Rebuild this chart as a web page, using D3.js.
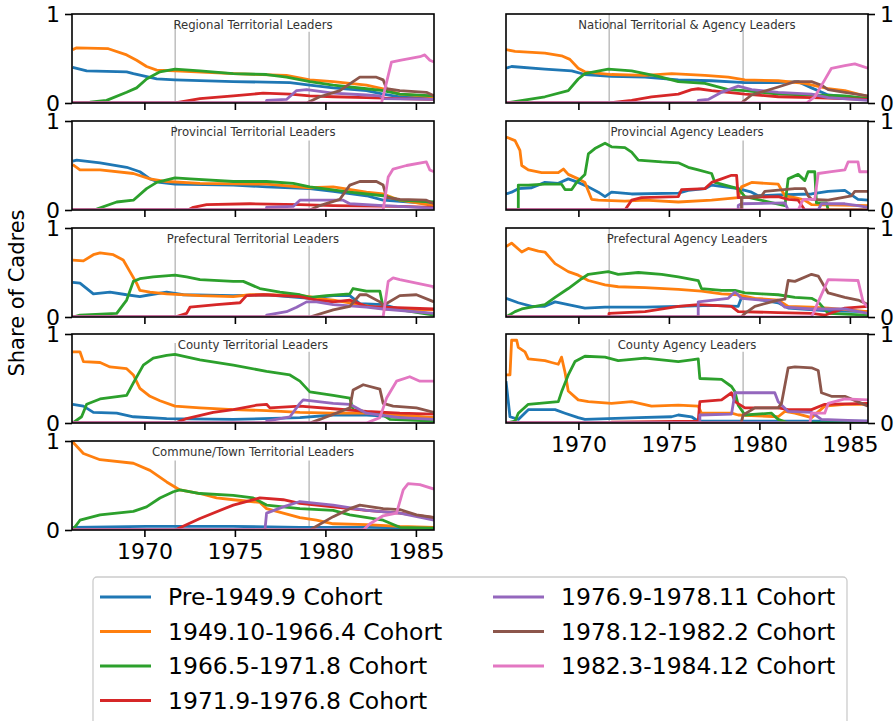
<!DOCTYPE html>
<html>
<head>
<meta charset="utf-8">
<script src="https://cdn.jsdelivr.net/npm/d3@7"></script>
<style>
  body { margin: 0; background: #fff; }
  text { font-family: "DejaVu Sans", sans-serif; }
</style>
</head>
<body>
<svg id="chart" width="895" height="721"></svg>
<script>
// cohorts in plotting order
const cohorts = [
  'Pre-1949.9 Cohort', '1949.10-1966.4 Cohort', '1966.5-1971.8 Cohort', '1971.9-1976.8 Cohort',
  '1976.9-1978.11 Cohort', '1978.12-1982.2 Cohort', '1982.3-1984.12 Cohort'
];
const colors = ['#1f77b4', '#ff7f0e', '#2ca02c', '#d62728', '#9467bd', '#8c564b', '#e377c2'];
const xTicks = [1970, 1975, 1980, 1985];
const yTicks = [0, 1];
const eventYears = [1971.7, 1979.1];

// each panel: 7 series of [year, share]
const regionalTerritorial = [
  [[1966.04,.40],[1966.81,.36],[1969.02,.35],[1969.39,.33],[1970.68,.27],[1971.69,.26],[1974.91,.24],[1978.04,.23],[1979.14,.2],[1980.43,.17],[1982.27,.14],[1983.19,.1],[1984.11,.07],[1986,.05]],
  [[1966.04,.60],[1966.26,.62],[1968.01,.61],[1969.02,.54],[1969.57,.48],[1970.12,.41],[1970.68,.37],[1971.69,.36],[1974.91,.33],[1977.85,.31],[1979.14,.26],[1980.43,.24],[1982.27,.20],[1983.19,.16],[1984.11,.10],[1986,.07]],
  [[1966.04,0],[1966.99,.01],[1967.91,.03],[1969.02,.12],[1969.57,.17],[1970.12,.27],[1970.86,.35],[1971.69,.38],[1973.07,.36],[1974.91,.33],[1976.75,.32],[1977.85,.29],[1979.14,.24],[1980.43,.2],[1982.27,.16],[1983.19,.14],[1984.11,.1],[1986,.08]],
  [[1966,0],[1971.69,0],[1973.07,.05],[1974.91,.08],[1976.56,.11],[1978.04,.1],[1979.14,.08],[1980.43,.07],[1982.27,.06],[1984.11,.05],[1986,.04]],
  [[1966,0],[1976.75,0],[1976.75,.03],[1977.85,.04],[1978.41,.14],[1978.96,.15],[1980.43,.11],[1982.27,.09],[1983.01,.08],[1983.19,.05],[1986,.04]],
  [[1966,0],[1978.96,0],[1979.69,.07],[1980.8,.14],[1981.53,.24],[1981.9,.29],[1982.82,.29],[1983.19,.26],[1983.38,.16],[1984.11,.14],[1985.58,.12],[1986,.08]],
  [[1966,0],[1983.1,0],[1983.65,.46],[1984.11,.48],[1985.22,.52],[1985.49,.54],[1985.77,.48],[1986,.46]]
];
const provincialTerritorial = [
  [[1966.04,.55],[1966.26,.56],[1967.55,.53],[1969.02,.48],[1969.75,.43],[1970.31,.35],[1970.86,.31],[1971.69,.29],[1974.91,.28],[1976.75,.26],[1979.14,.24],[1980.43,.21],[1982.27,.16],[1983.19,.11],[1986,.07]],
  [[1966.04,.51],[1966.44,.45],[1967.55,.45],[1969.39,.41],[1970.31,.35],[1971.23,.32],[1973.07,.3],[1976.75,.29],[1979.14,.25],[1980.43,.26],[1982.27,.2],[1983.19,.18],[1984.11,.11],[1986,.05]],
  [[1966.04,0],[1967.36,.01],[1968.47,.09],[1969.39,.11],[1970.12,.24],[1970.68,.31],[1971.69,.36],[1972.52,.35],[1974.91,.32],[1976.75,.32],[1978.22,.3],[1979.14,.26],[1981.35,.2],[1983.19,.16],[1984.11,.11],[1986,.09]],
  [[1966,0],[1972.4,0],[1972.7,.03],[1973.44,.06],[1975.83,.07],[1978.59,.06],[1980.43,.05],[1984.11,.04],[1986,.03]],
  [[1966,0],[1976.75,0],[1976.75,.03],[1978.22,.04],[1978.59,.11],[1980.98,.11],[1981.35,.07],[1983.19,.05],[1986,.02]],
  [[1966,0],[1979.14,0],[1979.69,.05],[1980.8,.12],[1981.35,.28],[1981.9,.32],[1982.82,.32],[1983.19,.28],[1983.38,.14],[1984.11,.12],[1985.58,.11],[1986,.07]],
  [[1966,0],[1983.19,0],[1983.47,.37],[1983.74,.46],[1984.48,.5],[1985.58,.54],[1985.77,.45],[1986,.43]]
];
const prefecturalTerritorial = [
  [[1966.04,.39],[1966.44,.38],[1967.18,.26],[1968.1,.28],[1969.02,.25],[1969.75,.23],[1970.31,.25],[1971.23,.28],[1972.15,.25],[1974.91,.24],[1976.75,.25],[1979.14,.21],[1980.43,.24],[1981.35,.24],[1981.9,.15],[1983.19,.14],[1984.11,.09],[1986,.03]],
  [[1966.04,.64],[1966.63,.63],[1967.18,.7],[1967.55,.72],[1968.28,.7],[1968.83,.64],[1969.2,.51],[1969.57,.38],[1969.75,.3],[1970.31,.28],[1971.23,.26],[1973.07,.24],[1974.91,.23],[1975.83,.25],[1976.75,.25],[1978.59,.24],[1979.14,.23],[1979.51,.21],[1980.43,.19],[1981.35,.16],[1983.19,.09],[1986,.08]],
  [[1966.04,0],[1966.44,.02],[1968.47,.04],[1969.02,.19],[1969.39,.4],[1969.75,.43],[1970.49,.45],[1971.69,.47],[1972.33,.45],[1973.07,.42],[1974.91,.4],[1975.46,.4],[1976.38,.32],[1977.49,.28],[1978.59,.25],[1979.14,.22],[1980.06,.24],[1981.35,.26],[1981.53,.32],[1982.27,.29],[1983.01,.29],[1983.19,.11],[1986,.02]],
  [[1966,0],[1971.69,0],[1972.33,.04],[1972.52,.11],[1973.99,.14],[1975.28,.16],[1975.64,.24],[1976.56,.25],[1978.59,.23],[1979.51,.19],[1980.43,.17],[1981.35,.19],[1982.27,.12],[1983.19,.11],[1986,.09]],
  [[1966,0],[1976.75,0],[1976.75,.02],[1977.85,.06],[1978.41,.11],[1978.96,.17],[1979.51,.17],[1980.43,.14],[1982.27,.11],[1983.19,.09],[1986,.04]],
  [[1966,0],[1979.14,0],[1980.43,.08],[1981.35,.12],[1981.9,.25],[1982.27,.25],[1983.01,.17],[1983.19,.13],[1984.11,.24],[1985.03,.25],[1986,.17]],
  [[1966,0],[1983.19,0],[1983.47,.4],[1983.74,.44],[1984.11,.42],[1985.96,.34],[1986,.32]]
];
const countyTerritorial = [
  [[1966.04,.21],[1966.63,.19],[1967.18,.12],[1968.47,.11],[1969.39,.07],[1971.23,.05],[1974.91,.04],[1978.59,.06],[1980.43,.09],[1982.27,.09],[1984.11,.07],[1986,.06]],
  [[1966.04,.8],[1966.44,.8],[1966.63,.69],[1967.55,.68],[1968.1,.63],[1969.02,.61],[1969.39,.54],[1969.75,.39],[1970.31,.3],[1970.86,.25],[1971.69,.19],[1973.07,.17],[1974.91,.15],[1976.75,.14],[1978.59,.12],[1980.43,.11],[1982.27,.11],[1984.11,.09],[1986,.06]],
  [[1966.04,0],[1966.53,.07],[1966.81,.21],[1967.55,.27],[1969.02,.31],[1969.39,.45],[1969.94,.65],[1970.49,.73],[1971.23,.76],[1971.69,.77],[1973.07,.71],[1974.91,.65],[1976.75,.58],[1978.04,.54],[1978.59,.47],[1979.14,.35],[1980.43,.31],[1981.35,.28],[1981.53,.15],[1983.19,.09],[1983.56,.04],[1986,.02]],
  [[1966,0],[1971.69,0],[1972.33,.05],[1973.8,.12],[1974.91,.15],[1976.2,.2],[1976.75,.21],[1976.93,.17],[1978.59,.19],[1980.43,.16],[1982.27,.13],[1984.11,.11],[1986,.1]],
  [[1966,0],[1976.75,0],[1976.75,.02],[1978.04,.07],[1978.59,.22],[1978.77,.26],[1980.43,.22],[1981.35,.21],[1982.27,.11],[1984.11,.06],[1986,.04]],
  [[1966,0],[1979.14,0],[1979.69,.04],[1981.35,.17],[1981.53,.37],[1982.09,.43],[1983.01,.38],[1983.19,.22],[1983.74,.19],[1985.03,.17],[1986,.12]],
  [[1966,0],[1982.27,0],[1983.01,.06],[1983.38,.28],[1983.93,.47],[1984.66,.52],[1985.22,.47],[1986,.47]]
];
const communeTerritorial = [
  [[1966.04,.03],[1970.12,.04],[1974.91,.04],[1978.59,.03],[1982.27,.03],[1986,.02]],
  [[1966.04,.99],[1966.63,.86],[1967.55,.79],[1969.39,.75],[1970.31,.67],[1971.23,.54],[1971.96,.45],[1973.07,.41],[1973.99,.36],[1974.91,.34],[1976.38,.31],[1976.75,.24],[1977.67,.19],[1978.59,.14],[1979.51,.11],[1980.43,.07],[1982.27,.06],[1984.11,.04],[1986,.03]],
  [[1966.04,0],[1966.44,.11],[1967.55,.17],[1969.39,.21],[1970.12,.26],[1970.86,.36],[1971.6,.43],[1971.96,.45],[1973.07,.41],[1974.91,.39],[1976.01,.36],[1976.75,.28],[1978.59,.24],[1980.43,.22],[1981.35,.17],[1983.19,.11],[1984.11,.03],[1986,.02]],
  [[1966,0],[1971.69,0],[1973.07,.13],[1974.91,.28],[1976.38,.36],[1977.67,.34],[1978.59,.3],[1980.43,.26],[1982.27,.22],[1984.11,.19],[1986,.14]],
  [[1966,0],[1976.66,0],[1976.75,.19],[1977.67,.26],[1978.59,.32],[1980.43,.28],[1982.27,.22],[1984.11,.19],[1986,.11]],
  [[1966,0],[1979.14,0],[1980.43,.15],[1981.35,.24],[1981.9,.28],[1983.19,.24],[1984.11,.23],[1985.03,.17],[1986,.14]],
  [[1966,0],[1982.09,0],[1982.46,.07],[1983.19,.16],[1983.93,.19],[1984.3,.45],[1984.57,.52],[1985.22,.51],[1986,.46]]
];
const nationalLeaders = [
  [[1966,.39],[1966.31,.41],[1968.15,.38],[1969.63,.36],[1970.36,.32],[1971.83,.3],[1973.68,.29],[1975.52,.26],[1977.36,.25],[1979.2,.23],[1981.04,.23],[1982.14,.24],[1982.88,.17],[1983.8,.09],[1986,.05]],
  [[1966,.6],[1966.5,.58],[1968.15,.56],[1969.07,.53],[1969.53,.49],[1969.99,.39],[1970.36,.35],[1971.83,.32],[1973.68,.31],[1975.15,.33],[1976.99,.31],[1978.28,.29],[1979.2,.26],[1981.04,.25],[1982.51,.22],[1983.8,.16],[1984.72,.14],[1986,.07]],
  [[1966,0],[1968.15,.07],[1969.44,.14],[1969.99,.27],[1970.36,.33],[1971.65,.38],[1972.94,.36],[1974.41,.3],[1975.52,.24],[1976.99,.22],[1978.28,.15],[1979.2,.14],[1981.04,.1],[1982.88,.09],[1984.72,.08],[1986,.05]],
  [[1966,0],[1971.69,0],[1972.94,.03],[1974.04,.07],[1975.52,.1],[1976.25,.15],[1976.62,.16],[1977.36,.14],[1978.28,.12],[1979.2,.1],[1981.04,.07],[1982.88,.06],[1986,.04]],
  [[1966,0],[1976.62,0],[1976.62,.03],[1977.17,.04],[1977.91,.12],[1978.83,.19],[1979.57,.15],[1981.04,.12],[1982.88,.1],[1983.8,.06],[1986,.03]],
  [[1966,0],[1978.99,0],[1979.57,.09],[1981.04,.18],[1981.96,.24],[1982.88,.24],[1983.43,.2],[1983.8,.15],[1984.72,.12],[1986,.08]],
  [[1966,0],[1982.6,0],[1983.06,.07],[1983.61,.26],[1983.98,.39],[1984.72,.42],[1985.27,.44],[1986,.39]]
];
const provincialAgency = [
  [[1966,.18],[1966.31,.2],[1966.68,.24],[1967.42,.25],[1968.15,.31],[1968.89,.3],[1969.44,.35],[1969.99,.31],[1970.55,.26],[1971.1,.2],[1971.47,.15],[1971.83,.2],[1972.94,.18],[1975.52,.19],[1976.07,.22],[1976.99,.24],[1977.36,.28],[1978.09,.26],[1978.83,.24],[1979.57,.2],[1979.93,.16],[1981.04,.17],[1982.88,.18],[1983.8,.21],[1984.72,.22],[1985.45,.12],[1986,.11]],
  [[1966,.82],[1966.5,.78],[1966.77,.67],[1966.87,.5],[1967.23,.45],[1967.97,.42],[1968.89,.42],[1969.17,.46],[1969.44,.4],[1969.99,.35],[1970.36,.31],[1970.73,.12],[1971.1,.11],[1972.57,.1],[1973.68,.11],[1975.52,.09],[1977.36,.11],[1978.83,.14],[1979.01,.26],[1979.57,.31],[1981.04,.29],[1981.41,.16],[1981.96,.14],[1982.51,.11],[1982.88,.06],[1986,.05]],
  [[1966,0],[1966.68,0],[1966.68,.28],[1967.23,.28],[1968.15,.29],[1969.07,.29],[1969.26,.23],[1969.63,.23],[1969.9,.31],[1970.36,.4],[1970.55,.63],[1970.91,.69],[1971.47,.75],[1971.83,.71],[1972.57,.7],[1972.94,.65],[1973.31,.56],[1974.6,.54],[1975.52,.53],[1976.07,.48],[1976.62,.45],[1977.36,.41],[1977.54,.31],[1978.46,.26],[1978.83,.24],[1979.2,.15],[1980.3,.1],[1981.41,.05],[1981.59,.35],[1982.14,.4],[1982.51,.33],[1982.69,.43],[1983.06,.43],[1983.15,.08],[1983.71,.08],[1983.8,0],[1986,0]],
  [[1966,0],[1972.57,0],[1972.94,.11],[1973.49,.14],[1975.52,.15],[1975.7,.23],[1976.99,.24],[1977.36,.31],[1977.91,.35],[1978.46,.39],[1978.74,.39],[1978.83,.14],[1981.04,.15],[1981.59,.12],[1982.14,.11],[1982.51,0],[1986,0]],
  [[1966,0],[1978.83,0],[1978.83,.05],[1979.01,.07],[1981.41,.08],[1981.59,0],[1983.25,0],[1983.43,.07],[1984.72,.07],[1985.45,.05],[1986,.03]],
  [[1966,0],[1979.01,0],[1979.01,.14],[1980.12,.16],[1980.3,.21],[1981.96,.24],[1982.51,.24],[1982.69,.16],[1982.88,.12],[1983.8,.11],[1985.09,.16],[1985.27,.21],[1986,.21]],
  [[1966,0],[1982.14,0],[1982.42,.12],[1983.06,.12],[1983.25,.41],[1983.98,.43],[1984.72,.45],[1984.9,.54],[1985.45,.54],[1985.54,.43],[1986,.43]]
];
const prefecturalAgency = [
  [[1966,.21],[1966.68,.16],[1967.42,.12],[1968.15,.12],[1968.71,.17],[1969.63,.13],[1970.36,.1],[1971.47,.11],[1973.68,.11],[1975.52,.12],[1977.36,.13],[1978.83,.12],[1979.01,.22],[1979.57,.21],[1981.04,.16],[1981.59,.1],[1983.8,.07],[1986,.06]],
  [[1966,.79],[1966.31,.83],[1966.87,.73],[1967.23,.77],[1967.79,.74],[1968.15,.73],[1968.71,.6],[1969.44,.51],[1969.99,.47],[1970.55,.41],[1971.47,.36],[1972.2,.34],[1973.68,.33],[1975.52,.31],[1976.8,.29],[1977.91,.26],[1978.83,.25],[1979.75,.21],[1981.04,.19],[1981.59,.12],[1982.88,.11],[1983.8,.1],[1986,.06]],
  [[1966,0],[1966.5,.06],[1966.87,.09],[1968.15,.14],[1968.71,.22],[1969.44,.32],[1970.18,.43],[1970.55,.48],[1971.65,.51],[1972.2,.48],[1973.31,.5],[1974.6,.48],[1975.52,.45],[1976.62,.41],[1976.8,.32],[1977.91,.3],[1978.65,.3],[1979.2,.27],[1980.12,.26],[1981.04,.25],[1981.96,.22],[1982.88,.21],[1983.25,.17],[1983.8,.04],[1986,.02]],
  [[1966,0],[1971.69,0],[1971.69,.04],[1973.68,.06],[1975.52,.12],[1976.62,.14],[1978.46,.12],[1978.83,.06],[1981.04,.05],[1982.88,.04],[1983.61,.02],[1984.72,.1],[1986,.12]],
  [[1966,0],[1976.62,0],[1976.62,.17],[1978.28,.21],[1978.65,.28],[1979.01,.21],[1980.12,.19],[1981.04,.18],[1981.41,.11],[1982.88,.09],[1984.72,.09],[1986,.04]],
  [[1966,0],[1978.99,0],[1979.2,.04],[1979.75,.12],[1981.04,.19],[1981.41,.2],[1981.59,.41],[1981.96,.4],[1982.88,.48],[1983.25,.46],[1983.8,.27],[1984.72,.22],[1985.45,.19],[1986,.14]],
  [[1966,0],[1982.88,0],[1983.25,.17],[1983.8,.42],[1985.45,.41],[1985.73,.17],[1986,.11]]
];
const countyAgency = [
  [[1966,.47],[1966.22,.07],[1966.68,.04],[1967.23,.15],[1968.71,.15],[1969.26,.11],[1969.99,.06],[1970.36,.04],[1973.31,.06],[1975.15,.07],[1975.52,.09],[1976.25,.07],[1976.62,.02],[1986,.02]],
  [[1966,.54],[1966.22,.54],[1966.31,.93],[1966.59,.93],[1966.68,.85],[1967.05,.8],[1967.23,.72],[1968.15,.7],[1968.52,.68],[1968.89,.66],[1969.07,.74],[1969.26,.57],[1969.44,.36],[1969.99,.26],[1970.55,.24],[1971.83,.22],[1972.94,.24],[1974.04,.19],[1975.52,.2],[1976.62,.19],[1976.8,.11],[1978.46,.11],[1978.83,.09],[1981.04,.07],[1981.41,.13],[1981.96,.11],[1982.88,.06],[1983.61,.19],[1984.72,.21],[1986,.21]],
  [[1966,0],[1966.5,.02],[1966.68,.11],[1967.23,.21],[1968.89,.24],[1969.07,.35],[1969.44,.54],[1969.81,.69],[1970.36,.75],[1971.47,.74],[1972.2,.7],[1973.68,.73],[1975.52,.69],[1976.25,.71],[1976.62,.72],[1976.71,.5],[1977.91,.49],[1978.46,.41],[1978.65,.35],[1978.83,.2],[1979.2,.09],[1980.67,.11],[1981.04,.04],[1981.59,0],[1986,0]],
  [[1966,0],[1971.83,0],[1971.83,.01],[1976.62,.02],[1976.71,.24],[1977.91,.26],[1978.46,.34],[1978.65,.24],[1979.2,.17],[1981.04,.17],[1981.59,.15],[1982.88,.15],[1983.61,.21],[1986,.22]],
  [[1966,0],[1976.71,0],[1976.71,.09],[1978.46,.1],[1978.65,.34],[1980.85,.34],[1981.04,.24],[1981.59,.13],[1982.88,.12],[1983.43,.04],[1986,.02]],
  [[1966,0],[1978.99,0],[1979.1,.09],[1979.75,.17],[1981.04,.17],[1981.22,.22],[1981.59,.62],[1981.96,.63],[1982.88,.62],[1983.25,.59],[1983.43,.34],[1983.98,.3],[1984.72,.3],[1986,.19]],
  [[1966,0],[1982.79,0],[1982.88,.11],[1983.61,.11],[1983.8,.22],[1984.72,.27],[1986,.26]]
];

const panels = [
  {title: 'Regional Territorial Leaders', series: regionalTerritorial, col: 0, row: 0, guide: [0.92, 0.8]},
  {title: 'Provincial Territorial Leaders', series: provincialTerritorial, col: 0, row: 1, guide: [0.95, 0.78]},
  {title: 'Prefectural Territorial Leaders', series: prefecturalTerritorial, col: 0, row: 2, guide: [0.87, 0.8]},
  {title: 'County Territorial Leaders', series: countyTerritorial, col: 0, row: 3, guide: [0.9, 0.8]},
  {title: 'Commune/Town Territorial Leaders', series: communeTerritorial, col: 0, row: 4, guide: [0.78, 0.78]},
  {title: 'National Territorial & Agency Leaders', series: nationalLeaders, col: 1, row: 0, guide: [1, 0.82]},
  {title: 'Provincial Agency Leaders', series: provincialAgency, col: 1, row: 1, guide: [1, 0.78]},
  {title: 'Prefectural Agency Leaders', series: prefecturalAgency, col: 1, row: 2, guide: [1, 0.8]},
  {title: 'County Agency Leaders', series: countyAgency, col: 1, row: 3, guide: [0.94, 0.8]}
];

const config = {
  colX: [72, 506],
  panelW: 362,
  rowY: [14, 121, 228, 334, 441],
  panelH: 89,
  lastRow: [4, 3],
  tickLen: 7,
  lineWidth: 2.8
};

const svg = d3.select('#chart');

const x = d3.scaleLinear().domain([1966, 1986]).range([0, config.panelW]);
const y = d3.scaleLinear().domain([0, 1]).range([config.panelH, 0]);

const line = d3.line()
  .x(d => x(d[0]))
  .y(d => y(d[1]));

panels.forEach((p, i) => {
  const g = svg.append('g')
    .attr('transform', `translate(${config.colX[p.col]}, ${config.rowY[p.row]})`);

  g.append('clipPath').attr('id', `clip${i}`)
    .append('rect').attr('width', config.panelW).attr('height', config.panelH);

  // event guide lines
  g.selectAll('.guide')
    .data(eventYears)
    .enter()
    .append('line')
    .attr('x1', d => x(d)).attr('x2', d => x(d))
    .attr('y1', config.panelH)
    .attr('y2', (d, k) => config.panelH * (1 - p.guide[k]))
    .attr('stroke', '#b4b4b4')
    .attr('stroke-width', 1.3);

  g.append('text')
    .attr('x', config.panelW / 2)
    .attr('y', 15)
    .attr('text-anchor', 'middle')
    .style('font-size', '11.7px')
    .style('fill', '#333')
    .text(p.title);

  g.append('g')
    .attr('clip-path', `url(#clip${i})`)
    .selectAll('path')
    .data(p.series)
    .enter()
    .append('path')
    .attr('d', line)
    .attr('fill', 'none')
    .attr('stroke', (d, k) => colors[k])
    .attr('stroke-width', config.lineWidth)
    .attr('stroke-linejoin', 'round');

  const showX = p.row === config.lastRow[p.col];
  const xAxis = d3.axisBottom(x)
    .tickValues(xTicks)
    .tickSize(config.tickLen)
    .tickPadding(6)
    .tickFormat(d => showX ? d : '');
  const xg = g.append('g')
    .attr('transform', `translate(0, ${config.panelH})`)
    .call(xAxis);

  const yAxis = (p.col === 0 ? d3.axisLeft(y) : d3.axisRight(y))
    .tickValues(yTicks)
    .tickSize(config.tickLen)
    .tickPadding(5)
    .tickFormat(d3.format('d'));
  const yg = g.append('g')
    .attr('transform', `translate(${p.col === 0 ? 0 : config.panelW}, 0)`)
    .call(yAxis);

  [xg, yg].forEach(a => {
    a.select('.domain').remove();
    a.selectAll('line').attr('stroke', '#000').attr('stroke-width', 1.6);
    a.selectAll('text').style('font-size', '22px').style('fill', '#000').style('font-family', '"DejaVu Sans"');
  });

  g.append('rect')
    .attr('width', config.panelW)
    .attr('height', config.panelH)
    .attr('fill', 'none')
    .attr('stroke', '#000')
    .attr('stroke-width', 1.6);
});

svg.append('text')
  .attr('transform', 'translate(24, 293) rotate(-90)')
  .attr('text-anchor', 'middle')
  .style('font-size', '21px')
  .text('Share of Cadres');

// legend
const legend = svg.append('g');
legend.append('rect')
  .attr('x', 93).attr('y', 577)
  .attr('width', 754).attr('height', 160)
  .attr('rx', 4)
  .attr('fill', '#fff')
  .attr('stroke', '#cccccc')
  .attr('stroke-width', 1.3);

const items = legend.selectAll('.item')
  .data(cohorts)
  .enter()
  .append('g')
  .attr('transform', (d, i) => {
    const c = i < 4 ? 0 : 1;
    const r = i < 4 ? i : i - 4;
    return `translate(${c === 0 ? 100 : 493}, ${597 + r * 34.5})`;
  });

items.append('line')
  .attr('x1', 0).attr('x2', 51)
  .attr('stroke', (d, i) => colors[i])
  .attr('stroke-width', 3);

items.append('text')
  .attr('x', 68)
  .attr('dy', '0.36em')
  .style('font-size', '23.5px')
  .text(d => d);
</script>
</body>
</html>
